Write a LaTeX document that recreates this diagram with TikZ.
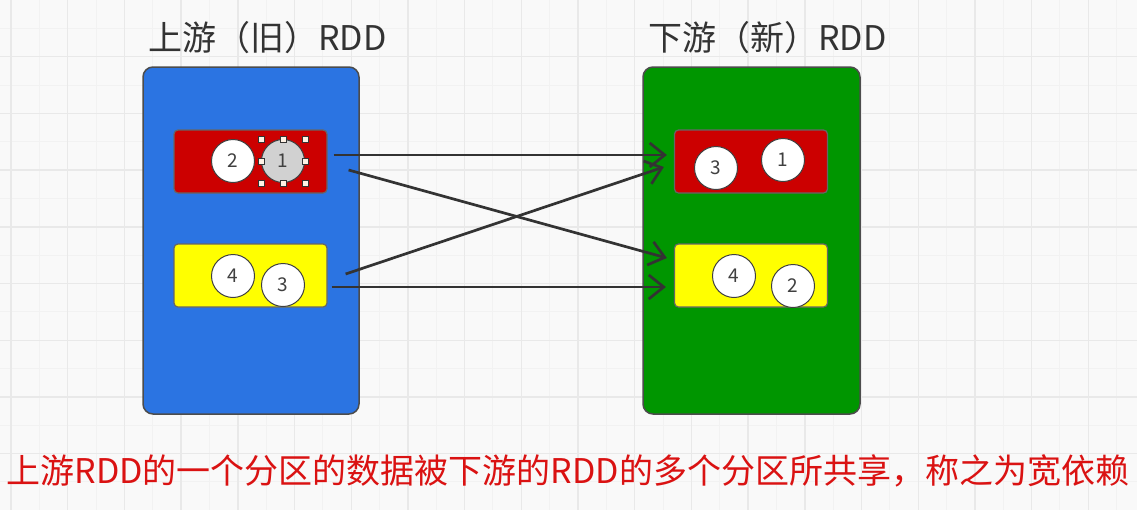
\documentclass[tikz,border=0pt]{standalone}
\usepackage{fontspec}
\setmainfont{Noto Sans CJK SC}
\usetikzlibrary{arrows.meta,calc}
\definecolor{rddblue}{RGB}{43,116,226}
\definecolor{rddgreen}{RGB}{0,150,0}
\definecolor{partred}{RGB}{204,0,0}
\definecolor{partyellow}{RGB}{255,255,0}
\definecolor{notered}{RGB}{218,18,18}
\definecolor{gridbg}{RGB}{249,249,249}
\definecolor{gridminor}{RGB}{242,242,242}
\definecolor{gridmajor}{RGB}{233,233,233}

\begin{document}
\begin{tikzpicture}[
  x=0.5pt, y=-0.5pt,
  rddbox/.style={rectangle, draw=black!70, line width=0.75pt, rounded corners=5pt, minimum width=108pt, minimum height=173.5pt},
  partbox/.style={rectangle, draw=black!60, line width=0.6pt, rounded corners=2pt, minimum width=76.5pt, minimum height=31.5pt},
  datanode/.style={circle, draw=black!75, line width=0.5pt, fill=white, minimum size=21.5pt, inner sep=0pt, font=\fontsize{9.5}{9.5}\selectfont, text=black!75},
  handle/.style={rectangle, draw=black!80, fill=orange!10, minimum size=3pt, inner sep=0pt, line width=0.4pt},
  arrow/.style={-{Straight Barb[length=7.5pt,width=12pt]}, draw=black!80, line width=1.35pt},
  title/.style={anchor=west, font=\fontsize{17}{17}\selectfont, text=black!80},
]
\useasboundingbox (0,0) rectangle (1137,510);
\fill[gridbg] (0,0) rectangle (1137,510);
\foreach \gx in {11,39.35,...,1137} \draw[gridminor, line width=0.5pt] (\gx,0) -- (\gx,510);
\foreach \gy in {28.35,56.7,...,510} \draw[gridminor, line width=0.5pt] (0,\gy) -- (1137,\gy);
\foreach \gx in {11,67.7,...,1137} \draw[gridmajor, line width=0.7pt] (\gx,0) -- (\gx,510);
\foreach \gy in {56.7,113.4,...,510} \draw[gridmajor, line width=0.7pt] (0,\gy) -- (1137,\gy);

\node[title] (up-title) at (141,38) {上游（旧）RDD};
\node[title] (dn-title) at (641,38) {下游（新）RDD};

\node[rddbox, fill=rddblue] (up-rdd) at (251,240.5) {};
\node[rddbox, fill=rddgreen, minimum width=108.5pt] (dn-rdd) at (751.5,240.5) {};

\node[partbox, fill=partred] (up-p1) at (250.5,161.5) {};
\node[partbox, fill=partyellow] (up-p2) at (250.5,275.5) {};
\node[partbox, fill=partred] (dn-p1) at (751,161.5) {};
\node[partbox, fill=partyellow] (dn-p2) at (751,275.5) {};

\node[datanode] (up-c2) at (233,161) {2};
\node[datanode, fill=black!18] (up-c1) at (283,161) {1};
\node[datanode] (up-c4) at (233,276) {4};
\node[datanode] (up-c3) at (283,285) {3};
\node[datanode] (dn-c3) at (716,168) {3};
\node[datanode] (dn-c1) at (783,160) {1};
\node[datanode] (dn-c4) at (734,276) {4};
\node[datanode] (dn-c2) at (793,286) {2};

% selection handles
\foreach \dx/\dy in {-22/-22,0/-22,22/-22,-22/0,22/0,-22/22,0/22,22/22}
  \node[handle] at ($(up-c1.center)+(\dx,\dy)$) {};

\draw[arrow] ([xshift=3pt,yshift=3.25pt]up-p1.east) -- ([xshift=-3.5pt,yshift=3.25pt]dn-p1.west);
\draw[arrow] ([xshift=10.5pt,yshift=-4.25pt]up-p1.east) -- ([xshift=-3.5pt,yshift=8.75pt]dn-p2.west);
\draw[arrow] ([xshift=9pt,yshift=0.75pt]up-p2.east) -- ([xshift=-5pt,yshift=-2.75pt]dn-p1.west);
\draw[arrow] ([xshift=2pt,yshift=-5.75pt]up-p2.east) -- ([xshift=-4pt,yshift=-5.75pt]dn-p2.west);

\node[font=\fontsize{17}{17}\selectfont, text=notered] (caption) at (568,471) {上游RDD的一个分区的数据被下游的RDD的多个分区所共享，称之为宽依赖};

\end{tikzpicture}
\end{document}
